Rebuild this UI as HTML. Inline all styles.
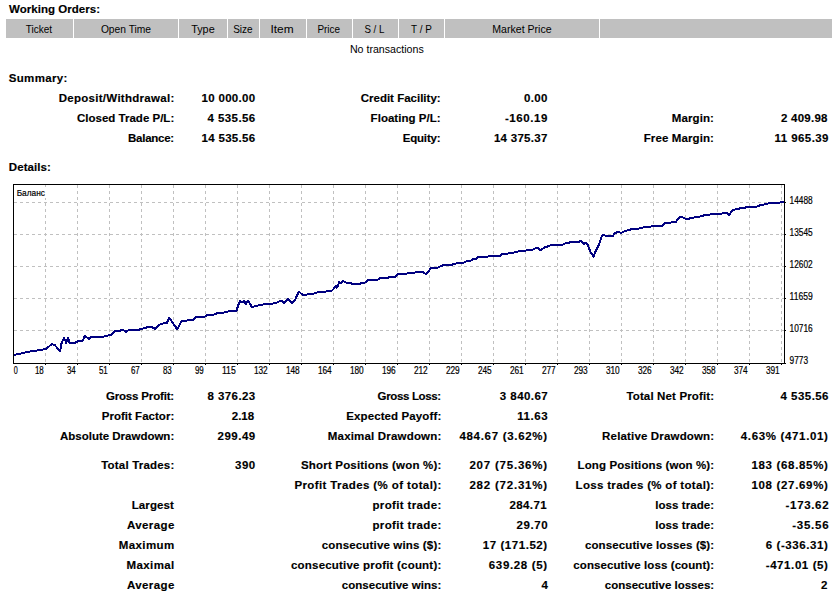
<!DOCTYPE html>
<html><head><meta charset="utf-8"><title>Statement</title>
<style>
html,body{margin:0;padding:0;background:#fff;width:838px;height:596px;overflow:hidden}
svg{display:block}
text{font-family:"Liberation Sans", sans-serif;fill:#000}
text[font-weight=bold]{stroke:#000;stroke-width:0.15px}
text[font-size="10"],text[font-size="9.5"]{stroke:#000;stroke-width:0.2px}
</style></head><body>
<svg width="838" height="596" viewBox="0 0 838 596">
<rect x="0" y="0" width="838" height="596" fill="#fff"/>
<rect x="6" y="19" width="67" height="19" fill="#C0C0C0"/>
<rect x="74" y="19" width="104" height="19" fill="#C0C0C0"/>
<rect x="179" y="19" width="48" height="19" fill="#C0C0C0"/>
<rect x="228" y="19" width="31" height="19" fill="#C0C0C0"/>
<rect x="260" y="19" width="46" height="19" fill="#C0C0C0"/>
<rect x="307" y="19" width="45" height="19" fill="#C0C0C0"/>
<rect x="353" y="19" width="45" height="19" fill="#C0C0C0"/>
<rect x="399" y="19" width="45" height="19" fill="#C0C0C0"/>
<rect x="445" y="19" width="154" height="19" fill="#C0C0C0"/>
<rect x="600" y="19" width="232" height="19" fill="#C0C0C0"/>
<g stroke="#C0C0C0" stroke-width="1" stroke-dasharray="3 3" shape-rendering="crispEdges">
<line x1="14" y1="202.5" x2="784" y2="202.5"/>
<line x1="14" y1="234.5" x2="784" y2="234.5"/>
<line x1="14" y1="266.5" x2="784" y2="266.5"/>
<line x1="14" y1="298.5" x2="784" y2="298.5"/>
<line x1="14" y1="330.5" x2="784" y2="330.5"/>
<line x1="45.5" y1="185" x2="45.5" y2="363"/>
<line x1="77.5" y1="185" x2="77.5" y2="363"/>
<line x1="109.5" y1="185" x2="109.5" y2="363"/>
<line x1="141.5" y1="185" x2="141.5" y2="363"/>
<line x1="173.5" y1="185" x2="173.5" y2="363"/>
<line x1="205.5" y1="185" x2="205.5" y2="363"/>
<line x1="237.5" y1="185" x2="237.5" y2="363"/>
<line x1="269.5" y1="185" x2="269.5" y2="363"/>
<line x1="301.5" y1="185" x2="301.5" y2="363"/>
<line x1="333.5" y1="185" x2="333.5" y2="363"/>
<line x1="365.5" y1="185" x2="365.5" y2="363"/>
<line x1="397.5" y1="185" x2="397.5" y2="363"/>
<line x1="429.5" y1="185" x2="429.5" y2="363"/>
<line x1="461.5" y1="185" x2="461.5" y2="363"/>
<line x1="493.5" y1="185" x2="493.5" y2="363"/>
<line x1="525.5" y1="185" x2="525.5" y2="363"/>
<line x1="557.5" y1="185" x2="557.5" y2="363"/>
<line x1="589.5" y1="185" x2="589.5" y2="363"/>
<line x1="621.5" y1="185" x2="621.5" y2="363"/>
<line x1="653.5" y1="185" x2="653.5" y2="363"/>
<line x1="685.5" y1="185" x2="685.5" y2="363"/>
<line x1="717.5" y1="185" x2="717.5" y2="363"/>
<line x1="749.5" y1="185" x2="749.5" y2="363"/>
<line x1="781.5" y1="185" x2="781.5" y2="363"/>
</g>
<g fill="#000" shape-rendering="crispEdges">
<rect x="13" y="184" width="772" height="1"/>
<rect x="13" y="184" width="1" height="180"/>
<rect x="784" y="184" width="1" height="180"/>
<rect x="13" y="363" width="772" height="1"/>
<rect x="785" y="202" width="1" height="1"/>
<rect x="785" y="234" width="1" height="1"/>
<rect x="785" y="266" width="1" height="1"/>
<rect x="785" y="298" width="1" height="1"/>
<rect x="785" y="330" width="1" height="1"/>
<rect x="785" y="363" width="1" height="1"/>
<rect x="45" y="364" width="1" height="1"/>
<rect x="77" y="364" width="1" height="1"/>
<rect x="109" y="364" width="1" height="1"/>
<rect x="141" y="364" width="1" height="1"/>
<rect x="173" y="364" width="1" height="1"/>
<rect x="205" y="364" width="1" height="1"/>
<rect x="237" y="364" width="1" height="1"/>
<rect x="269" y="364" width="1" height="1"/>
<rect x="301" y="364" width="1" height="1"/>
<rect x="333" y="364" width="1" height="1"/>
<rect x="365" y="364" width="1" height="1"/>
<rect x="397" y="364" width="1" height="1"/>
<rect x="429" y="364" width="1" height="1"/>
<rect x="461" y="364" width="1" height="1"/>
<rect x="493" y="364" width="1" height="1"/>
<rect x="525" y="364" width="1" height="1"/>
<rect x="557" y="364" width="1" height="1"/>
<rect x="589" y="364" width="1" height="1"/>
<rect x="621" y="364" width="1" height="1"/>
<rect x="653" y="364" width="1" height="1"/>
<rect x="685" y="364" width="1" height="1"/>
<rect x="717" y="364" width="1" height="1"/>
<rect x="749" y="364" width="1" height="1"/>
<rect x="781" y="364" width="1" height="1"/>
</g>
<rect x="14" y="187" width="32" height="11" fill="#fff"/>
<polyline points="14.2,354.9 20.7,353.5 27.9,351.9 39.2,350.1 45.2,349.2 47.6,347.7 51.8,343.9 54.7,345.1 60.1,351.1 61.6,343 63.9,338.2 65.5,341.2 66.1,343 67.9,337.9 69.7,343 74.4,343 78,341.2 82.8,340.6 84.6,335.8 88.8,338.8 91.1,337 103,336.8 109.8,335.1 112.2,334.3 115.1,331.1 119.9,330.7 122.9,329.9 125.9,331.9 128.9,329.9 133.6,329.5 136,330.1 139.6,329.5 144.4,328 149.2,326.8 151.5,327.1 155.1,328.9 158.7,325.1 161.7,323.9 164.7,323.2 167,322.7 169.4,317.9 177.2,329.2 181.4,321.5 186.1,320.6 193.3,320 196.3,317 200,317 204.8,316.7 207.2,315.1 213.7,314.7 217.3,313.1 224.5,312.5 229.8,311.1 236.4,310.7 238.2,305.3 240,301.2 242.4,302 244.2,301.2 245.9,303.9 248.3,300.8 251.9,307.1 254.9,306.3 259.7,305.1 265,304.2 271.6,303.9 276.4,302.7 279.4,301.2 282.3,301.2 284.1,303 287.7,298.8 291.9,303.2 295.5,299.1 298.4,292.2 299.8,292.4 302.8,295.1 306.9,294.7 308.1,293.9 312.9,293.9 317.1,292.4 325.4,291.8 327.2,290.8 332,290.6 334.4,288 336.2,285.8 336.8,287.6 338,285.8 339.2,282 340.9,282.8 342.7,280.8 345.7,282.5 351.1,283.2 352.3,284 360,283.8 361.8,282.8 365.4,282.5 367.8,279.8 377.9,279.6 380.3,278 387.5,278 389.3,276.8 394.8,276.9 398.4,273.9 406.1,273.9 407.9,273 414.5,272.7 416.3,271.8 422.2,271.8 425.8,273.9 427.6,272.7 430.6,268.2 437.7,267.7 441.3,265.8 444.3,265 452.1,264.6 454.4,263.8 458.6,263 464,262.6 466.4,261.4 471.1,260.6 473.5,259 477.1,258.4 478.3,256.6 480.7,257.5 485.5,257.2 489.2,256.2 499.9,256.2 502.3,254.1 507.1,253.8 509.5,253 513.6,252.6 516,252 520.2,251 525.6,250.8 526.8,250 532.7,249.6 536.9,247.5 540.5,250.2 544.7,247.5 549.4,245.8 552.4,244.8 562.6,244.8 564.4,243.6 569.1,242.7 570.9,241.8 579.3,241.8 580.5,240.7 583.6,243.8 586,243 587.8,245 590.7,252.7 593.7,256.6 595.5,251.5 598.5,245.6 602.1,235.4 603.9,235.4 612.8,236.3 614.6,233.4 618.2,231.8 621.2,233 625.3,230.7 628.9,230.3 631.9,228.6 638.5,228.6 640.9,227.7 644.4,227.4 646.8,226.7 650.4,226.7 652.2,225.9 662.3,225.9 664.7,222.9 670.7,222.7 672.5,221.7 676.1,221.7 679.8,216.8 681.9,216.8 685.3,218.8 688.7,218.8 691.5,217.7 695.6,217.4 697,216.8 701.8,216.3 703.8,215.4 708.6,215 711.4,214 721.7,213.6 723.7,212.6 726.5,212.6 729.2,215 732.6,209.9 737.4,209.2 739.5,208.5 744.3,208.1 746.4,207.2 751.8,206.7 757.3,206.5 760.1,205.1 764.9,204.4 769.7,203 779.3,202.6 781.4,202.1 784.1,202.1" fill="none" stroke="#000080" stroke-width="2" stroke-linejoin="round" stroke-linecap="butt" shape-rendering="crispEdges"/>
<text x="9.00" y="13" textLength="91.03" lengthAdjust="spacing" font-weight="bold" font-size="11.5">Working Orders:</text>
<text x="8.80" y="82" textLength="58.46" lengthAdjust="spacing" font-weight="bold" font-size="11.5">Summary:</text>
<text x="8.80" y="171" textLength="42.14" lengthAdjust="spacing" font-weight="bold" font-size="11.5">Details:</text>
<text x="58.70" y="102" textLength="115.57" lengthAdjust="spacing" font-weight="bold" font-size="11.5">Deposit/Withdrawal:</text>
<text x="201.50" y="102" textLength="53.72" lengthAdjust="spacing" font-weight="bold" font-size="11.5">10 000.00</text>
<text x="360.70" y="102" textLength="79.93" lengthAdjust="spacing" font-weight="bold" font-size="11.5">Credit Facility:</text>
<text x="524.00" y="102" textLength="23.31" lengthAdjust="spacing" font-weight="bold" font-size="11.5">0.00</text>
<text x="77.00" y="122" textLength="97.23" lengthAdjust="spacing" font-weight="bold" font-size="11.5">Closed Trade P/L:</text>
<text x="207.50" y="122" textLength="47.72" lengthAdjust="spacing" font-weight="bold" font-size="11.5">4 535.56</text>
<text x="370.60" y="122" textLength="70.03" lengthAdjust="spacing" font-weight="bold" font-size="11.5">Floating P/L:</text>
<text x="504.90" y="122" textLength="42.43" lengthAdjust="spacing" font-weight="bold" font-size="11.5">-160.19</text>
<text x="671.70" y="122" textLength="42.24" lengthAdjust="spacing" font-weight="bold" font-size="11.5">Margin:</text>
<text x="780.90" y="122" textLength="46.57" lengthAdjust="spacing" font-weight="bold" font-size="11.5">2 409.98</text>
<text x="128.00" y="142" textLength="46.20" lengthAdjust="spacing" font-weight="bold" font-size="11.5">Balance:</text>
<text x="201.50" y="142" textLength="53.72" lengthAdjust="spacing" font-weight="bold" font-size="11.5">14 535.56</text>
<text x="402.70" y="142" textLength="37.91" lengthAdjust="spacing" font-weight="bold" font-size="11.5">Equity:</text>
<text x="493.90" y="142" textLength="53.41" lengthAdjust="spacing" font-weight="bold" font-size="11.5">14 375.37</text>
<text x="643.70" y="142" textLength="70.24" lengthAdjust="spacing" font-weight="bold" font-size="11.5">Free Margin:</text>
<text x="774.60" y="142" textLength="53.92" lengthAdjust="spacing" font-weight="bold" font-size="11.5">11 965.39</text>
<text x="105.90" y="400" textLength="68.31" lengthAdjust="spacing" font-weight="bold" font-size="11.5">Gross Profit:</text>
<text x="207.50" y="400" textLength="47.72" lengthAdjust="spacing" font-weight="bold" font-size="11.5">8 376.23</text>
<text x="377.60" y="400" textLength="63.59" lengthAdjust="spacing" font-weight="bold" font-size="11.5">Gross Loss:</text>
<text x="499.80" y="400" textLength="47.92" lengthAdjust="spacing" font-weight="bold" font-size="11.5">3 840.67</text>
<text x="626.40" y="400" textLength="87.75" lengthAdjust="spacing" font-weight="bold" font-size="11.5">Total Net Profit:</text>
<text x="780.60" y="400" textLength="47.92" lengthAdjust="spacing" font-weight="bold" font-size="11.5">4 535.56</text>
<text x="101.70" y="420" textLength="72.53" lengthAdjust="spacing" font-weight="bold" font-size="11.5">Profit Factor:</text>
<text x="231.70" y="420" textLength="22.49" lengthAdjust="spacing" font-weight="bold" font-size="11.5">2.18</text>
<text x="346.20" y="420" textLength="95.05" lengthAdjust="spacing" font-weight="bold" font-size="11.5">Expected Payoff:</text>
<text x="517.20" y="420" textLength="30.53" lengthAdjust="spacing" font-weight="bold" font-size="11.5">11.63</text>
<text x="60.00" y="440" textLength="114.23" lengthAdjust="spacing" font-weight="bold" font-size="11.5">Absolute Drawdown:</text>
<text x="217.50" y="440" textLength="37.72" lengthAdjust="spacing" font-weight="bold" font-size="11.5">299.49</text>
<text x="327.80" y="440" textLength="113.45" lengthAdjust="spacing" font-weight="bold" font-size="11.5">Maximal Drawdown:</text>
<text x="459.40" y="440" textLength="87.71" lengthAdjust="spacing" font-weight="bold" font-size="11.5">484.67 (3.62%)</text>
<text x="602.10" y="440" textLength="112.05" lengthAdjust="spacing" font-weight="bold" font-size="11.5">Relative Drawdown:</text>
<text x="740.80" y="440" textLength="87.11" lengthAdjust="spacing" font-weight="bold" font-size="11.5">4.63% (471.01)</text>
<text x="101.20" y="469" textLength="73.06" lengthAdjust="spacing" font-weight="bold" font-size="11.5">Total Trades:</text>
<text x="235.00" y="469" textLength="20.22" lengthAdjust="spacing" font-weight="bold" font-size="11.5">390</text>
<text x="301.00" y="469" textLength="140.26" lengthAdjust="spacing" font-weight="bold" font-size="11.5">Short Positions (won %):</text>
<text x="469.40" y="469" textLength="77.71" lengthAdjust="spacing" font-weight="bold" font-size="11.5">207 (75.36%)</text>
<text x="577.60" y="469" textLength="136.54" lengthAdjust="spacing" font-weight="bold" font-size="11.5">Long Positions (won %):</text>
<text x="751.40" y="469" textLength="76.51" lengthAdjust="spacing" font-weight="bold" font-size="11.5">183 (68.85%)</text>
<text x="294.40" y="489" textLength="146.89" lengthAdjust="spacing" font-weight="bold" font-size="11.5">Profit Trades (% of total):</text>
<text x="469.40" y="489" textLength="77.71" lengthAdjust="spacing" font-weight="bold" font-size="11.5">282 (72.31%)</text>
<text x="575.60" y="489" textLength="138.58" lengthAdjust="spacing" font-weight="bold" font-size="11.5">Loss trades (% of total):</text>
<text x="751.40" y="489" textLength="76.51" lengthAdjust="spacing" font-weight="bold" font-size="11.5">108 (27.69%)</text>
<text x="131.70" y="509" textLength="42.13" lengthAdjust="spacing" font-weight="bold" font-size="11.5">Largest</text>
<text x="372.50" y="509" textLength="68.78" lengthAdjust="spacing" font-weight="bold" font-size="11.5">profit trade:</text>
<text x="509.50" y="509" textLength="37.16" lengthAdjust="spacing" font-weight="bold" font-size="11.5">284.71</text>
<text x="655.20" y="509" textLength="58.94" lengthAdjust="spacing" font-weight="bold" font-size="11.5">loss trade:</text>
<text x="785.60" y="509" textLength="42.94" lengthAdjust="spacing" font-weight="bold" font-size="11.5">-173.62</text>
<text x="126.90" y="529" textLength="47.52" lengthAdjust="spacing" font-weight="bold" font-size="11.5">Average</text>
<text x="372.50" y="529" textLength="68.78" lengthAdjust="spacing" font-weight="bold" font-size="11.5">profit trade:</text>
<text x="516.50" y="529" textLength="31.23" lengthAdjust="spacing" font-weight="bold" font-size="11.5">29.70</text>
<text x="655.20" y="529" textLength="58.94" lengthAdjust="spacing" font-weight="bold" font-size="11.5">loss trade:</text>
<text x="792.30" y="529" textLength="36.24" lengthAdjust="spacing" font-weight="bold" font-size="11.5">-35.56</text>
<text x="118.80" y="549" textLength="55.44" lengthAdjust="spacing" font-weight="bold" font-size="11.5">Maximum</text>
<text x="321.80" y="549" textLength="119.45" lengthAdjust="spacing" font-weight="bold" font-size="11.5">consecutive wins ($):</text>
<text x="482.80" y="549" textLength="64.31" lengthAdjust="spacing" font-weight="bold" font-size="11.5">17 (171.52)</text>
<text x="584.90" y="549" textLength="129.25" lengthAdjust="spacing" font-weight="bold" font-size="11.5">consecutive losses ($):</text>
<text x="765.70" y="549" textLength="62.21" lengthAdjust="spacing" font-weight="bold" font-size="11.5">6 (-336.31)</text>
<text x="126.60" y="569" textLength="47.60" lengthAdjust="spacing" font-weight="bold" font-size="11.5">Maximal</text>
<text x="291.00" y="569" textLength="150.26" lengthAdjust="spacing" font-weight="bold" font-size="11.5">consecutive profit (count):</text>
<text x="488.80" y="569" textLength="58.31" lengthAdjust="spacing" font-weight="bold" font-size="11.5">639.28 (5)</text>
<text x="573.30" y="569" textLength="140.84" lengthAdjust="spacing" font-weight="bold" font-size="11.5">consecutive loss (count):</text>
<text x="765.70" y="569" textLength="62.21" lengthAdjust="spacing" font-weight="bold" font-size="11.5">-471.01 (5)</text>
<text x="126.90" y="589" textLength="47.52" lengthAdjust="spacing" font-weight="bold" font-size="11.5">Average</text>
<text x="341.80" y="589" textLength="99.43" lengthAdjust="spacing" font-weight="bold" font-size="11.5">consecutive wins:</text>
<text x="541.60" y="589" textLength="5.21" lengthAdjust="spacing" font-weight="bold" font-size="11.5">4</text>
<text x="604.80" y="589" textLength="109.33" lengthAdjust="spacing" font-weight="bold" font-size="11.5">consecutive losses:</text>
<text x="821.10" y="589" textLength="7.46" lengthAdjust="spacing" font-weight="bold" font-size="11.5">2</text>
<text x="25.80" y="33" textLength="26.30" lengthAdjust="spacingAndGlyphs" font-weight="normal" font-size="11.5">Ticket</text>
<text x="100.90" y="33" textLength="50.15" lengthAdjust="spacingAndGlyphs" font-weight="normal" font-size="11.5">Open Time</text>
<text x="191.20" y="33" textLength="23.47" lengthAdjust="spacingAndGlyphs" font-weight="normal" font-size="11.5">Type</text>
<text x="233.20" y="33" textLength="19.44" lengthAdjust="spacingAndGlyphs" font-weight="normal" font-size="11.5">Size</text>
<text x="270.47" y="33" textLength="23.13" lengthAdjust="spacingAndGlyphs" font-weight="normal" font-size="11.5">Item</text>
<text x="317.40" y="33" textLength="22.64" lengthAdjust="spacingAndGlyphs" font-weight="normal" font-size="11.5">Price</text>
<text x="364.40" y="33" textLength="19.99" lengthAdjust="spacingAndGlyphs" font-weight="normal" font-size="11.5">S / L</text>
<text x="411.10" y="33" textLength="20.82" lengthAdjust="spacingAndGlyphs" font-weight="normal" font-size="11.5">T / P</text>
<text x="492.30" y="33" textLength="59.26" lengthAdjust="spacingAndGlyphs" font-weight="normal" font-size="11.5">Market Price</text>
<text x="349.90" y="53" textLength="73.87" lengthAdjust="spacingAndGlyphs" font-weight="normal" font-size="11.5">No transactions</text>
<text x="16.70" y="196" textLength="28.18" lengthAdjust="spacingAndGlyphs" font-weight="normal" font-size="9.5">Баланс</text>
<text x="789.60" y="204" textLength="23.14" lengthAdjust="spacingAndGlyphs" font-weight="normal" font-size="10">14488</text>
<text x="789.60" y="236" textLength="23.14" lengthAdjust="spacingAndGlyphs" font-weight="normal" font-size="10">13545</text>
<text x="789.60" y="268" textLength="23.14" lengthAdjust="spacingAndGlyphs" font-weight="normal" font-size="10">12602</text>
<text x="789.60" y="300" textLength="23.13" lengthAdjust="spacingAndGlyphs" font-weight="normal" font-size="10">11659</text>
<text x="789.60" y="332" textLength="23.14" lengthAdjust="spacingAndGlyphs" font-weight="normal" font-size="10">10716</text>
<text x="789.60" y="364" textLength="18.53" lengthAdjust="spacingAndGlyphs" font-weight="normal" font-size="10">9773</text>
<text x="13.80" y="374" textLength="3.99" lengthAdjust="spacingAndGlyphs" font-weight="normal" font-size="10">0</text>
<text x="34.90" y="374" textLength="8.85" lengthAdjust="spacingAndGlyphs" font-weight="normal" font-size="10">18</text>
<text x="66.90" y="374" textLength="8.85" lengthAdjust="spacingAndGlyphs" font-weight="normal" font-size="10">34</text>
<text x="98.90" y="374" textLength="8.85" lengthAdjust="spacingAndGlyphs" font-weight="normal" font-size="10">51</text>
<text x="130.90" y="374" textLength="8.85" lengthAdjust="spacingAndGlyphs" font-weight="normal" font-size="10">67</text>
<text x="162.90" y="374" textLength="8.85" lengthAdjust="spacingAndGlyphs" font-weight="normal" font-size="10">83</text>
<text x="194.90" y="374" textLength="8.85" lengthAdjust="spacingAndGlyphs" font-weight="normal" font-size="10">99</text>
<text x="221.90" y="374" textLength="13.82" lengthAdjust="spacingAndGlyphs" font-weight="normal" font-size="10">115</text>
<text x="253.90" y="374" textLength="13.84" lengthAdjust="spacingAndGlyphs" font-weight="normal" font-size="10">132</text>
<text x="285.90" y="374" textLength="13.84" lengthAdjust="spacingAndGlyphs" font-weight="normal" font-size="10">148</text>
<text x="317.90" y="374" textLength="13.84" lengthAdjust="spacingAndGlyphs" font-weight="normal" font-size="10">164</text>
<text x="349.90" y="374" textLength="13.84" lengthAdjust="spacingAndGlyphs" font-weight="normal" font-size="10">180</text>
<text x="381.90" y="374" textLength="13.84" lengthAdjust="spacingAndGlyphs" font-weight="normal" font-size="10">196</text>
<text x="413.90" y="374" textLength="13.84" lengthAdjust="spacingAndGlyphs" font-weight="normal" font-size="10">212</text>
<text x="445.90" y="374" textLength="13.84" lengthAdjust="spacingAndGlyphs" font-weight="normal" font-size="10">229</text>
<text x="477.90" y="374" textLength="13.84" lengthAdjust="spacingAndGlyphs" font-weight="normal" font-size="10">245</text>
<text x="509.90" y="374" textLength="13.84" lengthAdjust="spacingAndGlyphs" font-weight="normal" font-size="10">261</text>
<text x="541.90" y="374" textLength="13.84" lengthAdjust="spacingAndGlyphs" font-weight="normal" font-size="10">277</text>
<text x="573.90" y="374" textLength="13.84" lengthAdjust="spacingAndGlyphs" font-weight="normal" font-size="10">293</text>
<text x="605.90" y="374" textLength="13.84" lengthAdjust="spacingAndGlyphs" font-weight="normal" font-size="10">310</text>
<text x="637.90" y="374" textLength="13.84" lengthAdjust="spacingAndGlyphs" font-weight="normal" font-size="10">326</text>
<text x="669.90" y="374" textLength="13.84" lengthAdjust="spacingAndGlyphs" font-weight="normal" font-size="10">342</text>
<text x="701.90" y="374" textLength="13.84" lengthAdjust="spacingAndGlyphs" font-weight="normal" font-size="10">358</text>
<text x="733.90" y="374" textLength="13.84" lengthAdjust="spacingAndGlyphs" font-weight="normal" font-size="10">374</text>
<text x="765.90" y="374" textLength="13.84" lengthAdjust="spacingAndGlyphs" font-weight="normal" font-size="10">391</text>
</svg>
</body></html>
